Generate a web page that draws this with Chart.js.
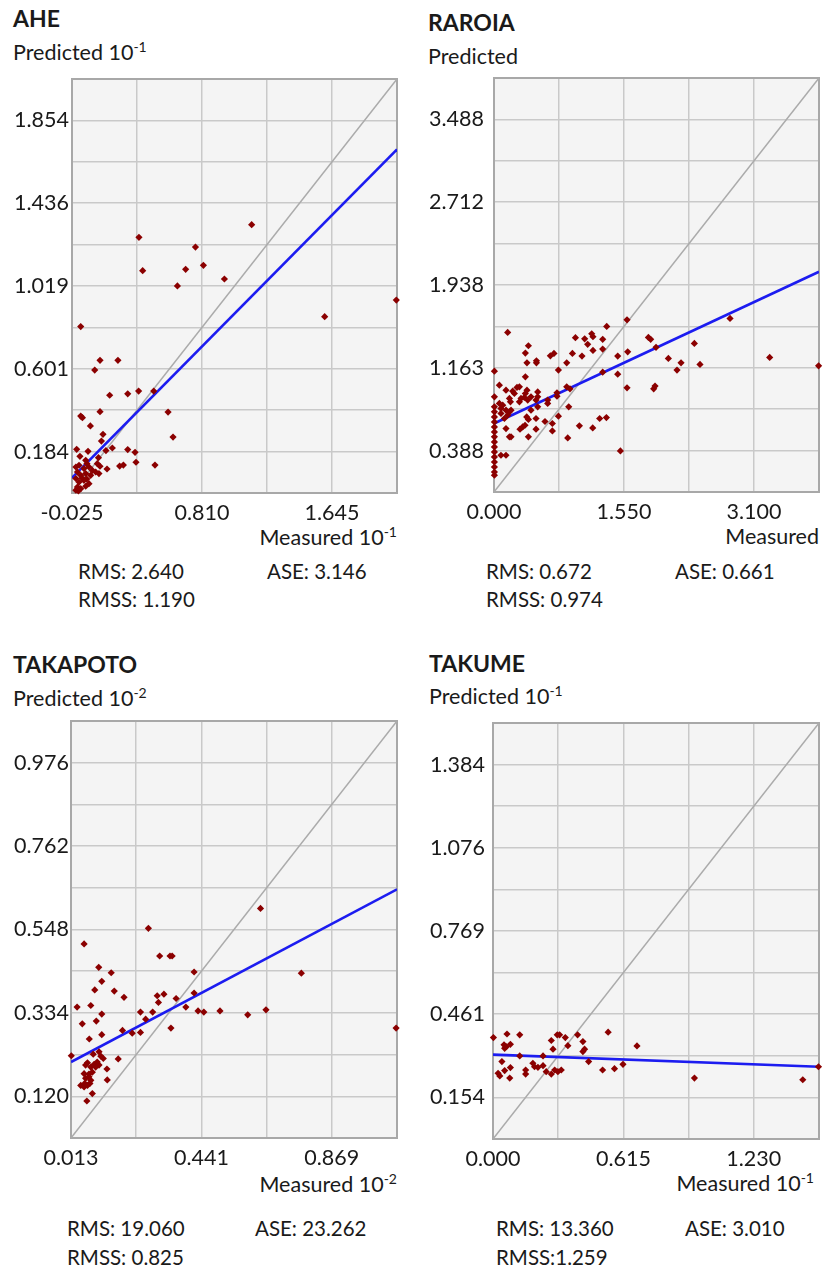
<!DOCTYPE html>
<html>
<head>
<meta charset="utf-8">
<script src="https://cdn.jsdelivr.net/npm/chart.js@4.4.1/dist/chart.umd.min.js"></script>
<style>
  html, body { margin: 0; padding: 0; background: #fff; overflow: hidden; }
  body { width: 824px; height: 1270px; position: relative; font-family: Lato, 'Open Sans', sans-serif; color: #1a1a1a; }
  .t { position: absolute; white-space: nowrap; line-height: 1; }
  .title { font-weight: bold; font-size: 23px; }
  .lab { font-size: 21.5px; }
  .lab sup { font-size: 14px; line-height: 0; vertical-align: 8px; }
  .st { font-size: 20.5px; }
  canvas { position: absolute; }
</style>
</head>
<body>

<!-- AHE -->
<div class="t title" style="left:13px;top:7px">AHE</div>
<div class="t lab" style="left:13px;top:42px">Predicted 10<sup>-1</sup></div>
<div class="t lab" style="right:427px;top:527px">Measured 10<sup>-1</sup></div>
<div class="t st" style="left:78px;top:561px">RMS: 2.640</div>
<div class="t st" style="left:267px;top:561px">ASE: 3.146</div>
<div class="t st" style="left:78px;top:589px">RMSS: 1.190</div>

<!-- RAROIA -->
<div class="t title" style="left:428px;top:11px">RAROIA</div>
<div class="t lab" style="left:428px;top:46px">Predicted</div>
<div class="t lab" style="right:5px;top:526px">Measured</div>
<div class="t st" style="left:486px;top:561px">RMS: 0.672</div>
<div class="t st" style="left:675px;top:561px">ASE: 0.661</div>
<div class="t st" style="left:486px;top:589px">RMSS: 0.974</div>

<!-- TAKAPOTO -->
<div class="t title" style="left:13px;top:653px">TAKAPOTO</div>
<div class="t lab" style="left:13px;top:688px">Predicted 10<sup>-2</sup></div>
<div class="t lab" style="right:427px;top:1174px">Measured 10<sup>-2</sup></div>
<div class="t st" style="left:67px;top:1218px">RMS: 19.060</div>
<div class="t st" style="left:255px;top:1218px">ASE: 23.262</div>
<div class="t st" style="left:67px;top:1247px">RMSS: 0.825</div>

<!-- TAKUME -->
<div class="t title" style="left:429px;top:652px">TAKUME</div>
<div class="t lab" style="left:429px;top:686px">Predicted 10<sup>-1</sup></div>
<div class="t lab" style="right:10px;top:1173px">Measured 10<sup>-1</sup></div>
<div class="t st" style="left:496px;top:1218px">RMS: 13.360</div>
<div class="t st" style="left:685px;top:1218px">ASE: 3.010</div>
<div class="t st" style="left:496px;top:1247px">RMSS:1.259</div>

<script>
// ---- AHE ----
const AHE_RANGE = [-0.025, 2.0625];
const AHE_X_LABELS = ['-0.025', '0.810', '1.645'];
const AHE_Y_LABELS = ['0.184', '0.601', '1.019', '1.436', '1.854'];
const AHE_FIT = [0.051, 1.708];
const AHE_MEASURED = [0.405, 0.429, 0.768, 0.705, 0.819, 0.652, 0.954, 1.129, 1.598, 2.058,
  0.031, 0.155, 0.270, 0.121, 0.403, 0.333, 0.217, 0.500, 0.155, 0.592,
  0.031, 0.042, 0.093, 0.174, 0.164, 0.624, 0.005, 0.078, 0.193, 0.234,
  0.333, 0.380, 0.026, 0.386, 0.508, 0.281, 0.305, 0.200, 0.138, 0.155,
  0.145, 0.063, 0.071, 0.000, 0.020, 0.052, 0.084, 0.106, 0.127, 0.148,
  0.010, 0.031, 0.063, 0.095, 0.000, 0.020, 0.052, 0.084, 0.010, 0.031,
  0.063, 0.016, 0.000, 0.040, 0.070];
const AHE_PREDICTED = [1.264, 1.096, 1.215, 1.103, 1.123, 1.019, 1.054, 1.328, 0.864, 0.948,
  0.814, 0.644, 0.644, 0.595, 0.489, 0.475, 0.468, 0.489, 0.385, 0.383,
  0.363, 0.355, 0.313, 0.271, 0.237, 0.257, 0.195, 0.185, 0.189, 0.202,
  0.194, 0.180, 0.160, 0.130, 0.116, 0.111, 0.116, 0.096, 0.123, 0.110,
  0.153, 0.140, 0.123, 0.106, 0.115, 0.098, 0.106, 0.089, 0.081, 0.073,
  0.081, 0.064, 0.073, 0.064, 0.048, 0.030, 0.039, 0.022, 0.005, -0.003,
  0.009, -0.015, -0.011, 0.050, 0.045];

// ---- RAROIA ----
const RAROIA_RANGE = [0, 3.875];
const RAROIA_X_LABELS = ['0.000', '1.550', '3.100'];
const RAROIA_Y_LABELS = ['0.388', '1.163', '1.938', '2.712', '3.488'];
const RAROIA_FIT = [0.641, 2.062];
const RAROIA_MEASURED = [0.163, 0.005, 1.344, 1.586, 2.814, 3.287, 3.870, 2.389, 2.456, 2.230,
  2.182, 2.079, 1.932, 1.841, 1.868, 1.594, 1.475, 1.475, 1.586, 1.920,
  1.904, 1.507, 1.296, 1.296, 1.165, 1.180, 1.081, 1.117, 1.180, 0.971,
  0.935, 1.049, 1.296, 0.867, 0.768, 0.672, 0.715, 0.506, 0.506, 0.410,
  0.374, 0.393, 0.374, 0.867, 0.906, 0.751, 0.751, 0.891, 0.768, 0.696,
  0.696, 0.608, 0.501, 0.501, 0.410, 0.879, 1.018, 1.177, 1.260, 1.340,
  0.390, 0.410, 0.310, 0.342, 0.370, 0.184, 0.203, 0.143, 0.640, 0.521,
  0.501, 0.521, 0.521, 0.640, 0.441, 0.402, 0.362, 0.374, 0.393, 0.303,
  0.274, 0.223, 0.243, 0.184, 0.196, 0.143, 0.064, 0.104, 0.083, 0.143,
  0.184, 0.203, 0.163, 0.124, 0.083, 0.064, 0.322, 0.303, 0.441,
  0.005, 0.005, 0.005, 0.005, 0.005, 0.005, 0.005, 0.005, 0.005, 0.005,
  0.005, 0.005, 0.005, 0.005, 0.005, 0.005, 0.083, 0.143];
const RAROIA_PREDICTED = [1.494, 1.131, 1.550, 1.612, 1.625, 1.260, 1.181, 1.391, 1.194, 1.209,
  1.141, 1.250, 1.354, 1.447, 1.429, 1.312, 1.272, 1.103, 0.975, 0.991,
  0.966, 0.384, 1.429, 1.338, 1.481, 1.453, 1.434, 1.382, 1.325, 1.444,
  1.297, 1.272, 1.122, 1.209, 1.141, 1.275, 1.297, 1.228, 1.209, 1.369,
  1.300, 1.209, 1.078, 0.984, 0.966, 0.928, 0.897, 0.797, 0.710, 0.641,
  0.572, 0.660, 0.688, 0.588, 0.516, 0.506, 0.619, 0.600, 0.688, 0.697,
  0.703, 0.679, 0.588, 0.609, 0.625, 0.516, 0.516, 0.594, 0.829, 0.797,
  0.860, 0.891, 0.937, 0.860, 0.891, 0.860, 0.885, 0.922, 0.953, 0.984,
  0.979, 0.944, 0.922, 0.876, 0.844, 0.953, 1.000, 0.813, 0.782, 0.766,
  0.750, 0.766, 0.719, 0.688, 0.735, 0.829, 0.876, 0.844, 0.766,
  0.891, 0.797, 0.750, 0.703, 0.656, 0.609, 0.562, 0.516, 0.469, 0.422,
  0.375, 0.328, 0.281, 0.234, 0.187, 0.157, 0.344, 0.344];

// ---- TAKAPOTO ----
const TAKAPOTO_RANGE = [0.013, 1.083];
const TAKAPOTO_X_LABELS = ['0.013', '0.441', '0.869'];
const TAKAPOTO_Y_LABELS = ['0.120', '0.334', '0.548', '0.762', '0.976'];
const TAKAPOTO_FIT = [0.208, 0.651];
const TAKAPOTO_MEASURED = [0.056, 0.267, 0.635, 0.304, 0.338, 0.345, 0.104, 0.145, 0.417, 0.769,
  0.114, 0.091, 0.155, 0.187, 0.296, 0.318, 0.300, 0.358, 0.417, 0.033,
  0.078, 0.114, 0.241, 0.281, 0.390, 0.430, 0.449, 0.502, 0.593, 0.653,
  1.080, 0.050, 0.096, 0.258, 0.114, 0.182, 0.214, 0.241, 0.341, 0.073,
  0.014, 0.168, 0.131, 0.132, 0.086, 0.105, 0.111, 0.119, 0.099, 0.089,
  0.067, 0.061, 0.078, 0.094, 0.105, 0.056, 0.072, 0.083, 0.061, 0.072,
  0.078, 0.045, 0.056, 0.067, 0.075, 0.083, 0.065, 0.058];
const TAKAPOTO_PREDICTED = [0.511, 0.551, 0.602, 0.480, 0.480, 0.480, 0.451, 0.437, 0.439, 0.436,
  0.415, 0.393, 0.390, 0.374, 0.378, 0.382, 0.361, 0.371, 0.385, 0.349,
  0.353, 0.331, 0.336, 0.336, 0.349, 0.339, 0.336, 0.339, 0.329, 0.342,
  0.295, 0.306, 0.313, 0.318, 0.278, 0.289, 0.282, 0.284, 0.295, 0.267,
  0.224, 0.216, 0.190, 0.162, 0.228, 0.234, 0.223, 0.217, 0.208, 0.202,
  0.206, 0.200, 0.195, 0.195, 0.200, 0.178, 0.177, 0.182, 0.166, 0.170,
  0.161, 0.148, 0.144, 0.148, 0.153, 0.127, 0.108, 0.153];

// ---- TAKUME ----
const TAKUME_RANGE = [0, 1.5375];
const TAKUME_X_LABELS = ['0.000', '0.615', '1.230'];
const TAKUME_Y_LABELS = ['0.154', '0.461', '0.769', '1.076', '1.384'];
const TAKUME_FIT = [0.312, 0.267];
const TAKUME_MEASURED = [0.002, 0.066, 0.126, 0.052, 0.063, 0.082, 0.055, 0.042, 0.126, 0.024,
  0.032, 0.055, 0.082, 0.079, 0.154, 0.154, 0.188, 0.196, 0.212, 0.236,
  0.236, 0.251, 0.275, 0.291, 0.306, 0.322, 0.275, 0.283, 0.303, 0.314,
  0.341, 0.353, 0.399, 0.424, 0.432, 0.424, 0.451, 0.543, 0.517, 0.573,
  0.613, 0.679, 0.950, 1.461, 1.535];
const TAKUME_PREDICTED = [0.375, 0.388, 0.385, 0.348, 0.341, 0.350, 0.335, 0.286, 0.307, 0.243,
  0.233, 0.253, 0.264, 0.225, 0.255, 0.240, 0.280, 0.267, 0.265, 0.307,
  0.271, 0.249, 0.240, 0.255, 0.249, 0.255, 0.364, 0.332, 0.385, 0.385,
  0.375, 0.345, 0.385, 0.360, 0.332, 0.323, 0.286, 0.395, 0.255, 0.260,
  0.276, 0.344, 0.225, 0.219, 0.267];

// Light plot background and grey frame around each plotting area
const plotFrame = {
  id: 'plotFrame',
  beforeDraw(chart) {
    const { ctx, chartArea: a } = chart;
    ctx.save();
    ctx.fillStyle = '#f4f4f4';
    ctx.fillRect(a.left, a.top, a.right - a.left, a.bottom - a.top);
    ctx.restore();
  },
  beforeDatasetsDraw(chart) {
    const { ctx, chartArea: a } = chart;
    ctx.save();
    ctx.strokeStyle = '#a8a8a8';
    ctx.lineWidth = 2;
    ctx.strokeRect(a.left, a.top, a.right - a.left, a.bottom - a.top);
    ctx.restore();
  }
};

const TICK_FONT = { family: 'Lato', size: 21.5 };
const GRID = { color: '#c9c9c9', lineWidth: 1.5, drawTicks: false, borderDash: [2, 1] };

function makePanel(p) {
  const [lo, hi] = p.range;
  const xStep = (hi - lo) / 5;
  const yStep = (hi - lo) / 10;
  const w = p.plotRight + 4 - p.labelLeft;
  const h = p.plotBottom - p.plotTop + 6 + 40;

  const canvas = document.createElement('canvas');
  canvas.width = w;
  canvas.height = h;
  canvas.style.left = p.labelLeft + 'px';
  canvas.style.top = (p.plotTop - 6) + 'px';
  canvas.style.width = w + 'px';
  canvas.style.height = h + 'px';
  document.body.appendChild(canvas);

  const points = p.measured.map((x, i) => ({ x, y: p.predicted[i] }));

  new Chart(canvas, {
    type: 'scatter',
    data: {
      datasets: [
        {
          data: points,
          pointStyle: 'rectRot',
          pointRadius: 3.6,
          borderWidth: 0,
          backgroundColor: '#8b0000',
          clip: 8,
          order: 0
        },
        {
          data: [{ x: lo, y: p.fit[0] }, { x: hi, y: p.fit[1] }],
          showLine: true,
          borderColor: '#1c1cf0',
          borderWidth: 2.6,
          pointRadius: 0,
          order: 1
        },
        {
          data: [{ x: lo, y: lo }, { x: hi, y: hi }],
          showLine: true,
          borderColor: '#ababab',
          borderWidth: 1.5,
          pointRadius: 0,
          order: 2
        }
      ]
    },
    options: {
      responsive: false,
      animation: false,
      devicePixelRatio: 1,
      layout: { autoPadding: false, padding: { top: 6, right: 4, left: 0, bottom: 0 } },
      plugins: { legend: { display: false }, tooltip: { enabled: false } },
      scales: {
        x: {
          type: 'linear',
          min: lo,
          max: hi,
          afterBuildTicks: s => { s.ticks = Array.from({ length: 6 }, (_, i) => ({ value: lo + i * xStep })); },
          afterFit: s => { s.height = 40; s.paddingLeft = 0; s.paddingRight = 0; },
          ticks: {
            autoSkip: false,
            maxRotation: 0,
            padding: 7,
            color: '#1a1a1a',
            font: TICK_FONT,
            callback: (v, i) => (i % 2 === 0 && i / 2 < p.xLabels.length ? p.xLabels[i / 2] : '')
          },
          grid: GRID,
          border: { display: false }
        },
        y: {
          type: 'linear',
          min: lo,
          max: hi,
          afterBuildTicks: s => { s.ticks = Array.from({ length: 11 }, (_, i) => ({ value: lo + i * yStep })); },
          afterFit: s => { s.width = p.plotLeft - p.labelLeft; s.paddingTop = 0; s.paddingBottom = 0; },
          ticks: {
            autoSkip: false,
            crossAlign: 'far',
            padding: 4,
            color: '#1a1a1a',
            font: TICK_FONT,
            callback: (v, i) => (i % 2 === 1 ? p.yLabels[(i - 1) / 2] : '')
          },
          grid: GRID,
          border: { display: false }
        }
      }
    },
    plugins: [plotFrame]
  });
}

makePanel({ range: AHE_RANGE, xLabels: AHE_X_LABELS, yLabels: AHE_Y_LABELS, fit: AHE_FIT,
  measured: AHE_MEASURED, predicted: AHE_PREDICTED,
  labelLeft: 14, plotLeft: 72, plotRight: 397, plotTop: 79, plotBottom: 493 });
makePanel({ range: RAROIA_RANGE, xLabels: RAROIA_X_LABELS, yLabels: RAROIA_Y_LABELS, fit: RAROIA_FIT,
  measured: RAROIA_MEASURED, predicted: RAROIA_PREDICTED,
  labelLeft: 429, plotLeft: 494, plotRight: 819, plotTop: 78, plotBottom: 492 });
makePanel({ range: TAKAPOTO_RANGE, xLabels: TAKAPOTO_X_LABELS, yLabels: TAKAPOTO_Y_LABELS, fit: TAKAPOTO_FIT,
  measured: TAKAPOTO_MEASURED, predicted: TAKAPOTO_PREDICTED,
  labelLeft: 14, plotLeft: 71, plotRight: 397, plotTop: 721, plotBottom: 1138 });
makePanel({ range: TAKUME_RANGE, xLabels: TAKUME_X_LABELS, yLabels: TAKUME_Y_LABELS, fit: TAKUME_FIT,
  measured: TAKUME_MEASURED, predicted: TAKUME_PREDICTED,
  labelLeft: 430, plotLeft: 493, plotRight: 819, plotTop: 723, plotBottom: 1139 });
</script>
</body>
</html>
